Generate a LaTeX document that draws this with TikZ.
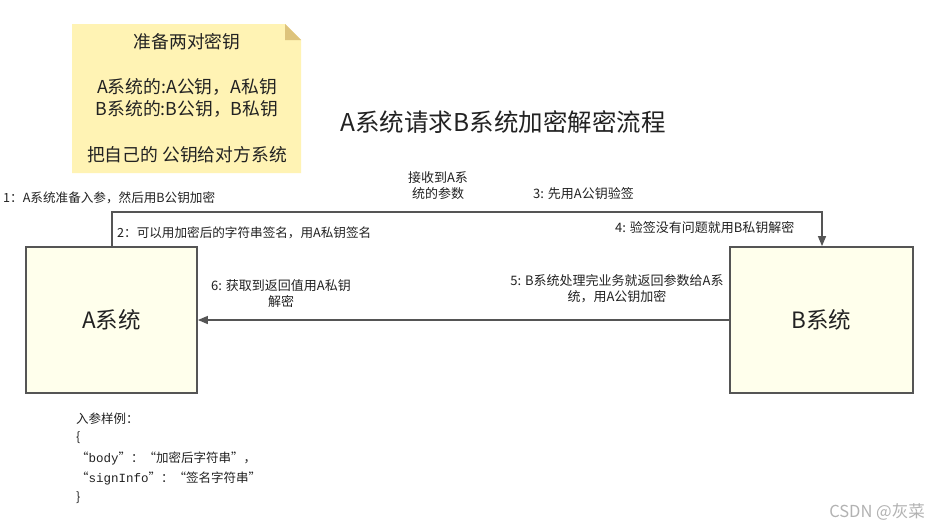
\documentclass[tikz,border=0pt]{standalone}
\usepackage{fontspec}
\setmainfont{Noto Sans CJK SC}
\newfontfamily\codemono{Liberation Mono}
\usetikzlibrary{arrows.meta}
\definecolor{notefill}{HTML}{FFF3B4}
\definecolor{notefold}{HTML}{DDC37C}
\definecolor{boxfill}{HTML}{FFFFEC}
\definecolor{linec}{HTML}{555555}
\definecolor{txt}{HTML}{222222}
\tikzset{
  sysbox/.style={draw=linec, line width=1.8pt, fill=boxfill, minimum height=146pt, inner sep=0pt, font=\fontsize{22.5}{26}\selectfont, text=txt},
  conn/.style={draw=linec, line width=1.4pt, -{Triangle[length=10pt,width=8pt]}},
  lbl/.style={font=\fontsize{13}{16}\selectfont, text=txt, inner sep=0pt, align=center},
  slbl/.style={font=\fontsize{12.6}{16}\selectfont, text=txt, inner sep=0pt, anchor=west},
  notetxt/.style={font=\fontsize{17.8}{22}\selectfont, text=txt, inner sep=0pt},
  codetxt/.style={font=\fontsize{12.5}{20}\selectfont, text=txt, inner sep=0pt, anchor=west}
}
\begin{document}
\begin{tikzpicture}[x=1pt,y=-1pt]
\useasboundingbox (0,0) rectangle (931,528);
\fill[white] (0,0) rectangle (931,528);
% note
\fill[notefill] (72,24) -- (285,24) -- (301,40) -- (301,173) -- (72,173) -- cycle;
\fill[notefold] (285,24) -- (301,40) -- (285,40) -- cycle;
\node[notetxt] (n1) at (187,42) {准备两对密钥};
\node[notetxt] (n2) at (187,87) {A系统的:A公钥，A私钥};
\node[notetxt] (n3) at (187,109) {B系统的:B公钥，B私钥};
\node[notetxt] (n4) at (187,155) {把自己的 公钥给对方系统};
% title
\node[font=\fontsize{24.5}{28}\selectfont, text=txt, inner sep=0pt] (title) at (503,122) {A系统请求B系统加密解密流程};
% boxes
\node[sysbox, minimum width=171pt] (a) at (111.5,320) {A系统};
\node[sysbox, minimum width=183pt] (b) at (821.5,320) {B系统};
% connectors
\coordinate (a1) at (112,247);
\coordinate (t2) at (822,212);
\draw[conn] (a1) |- (t2) -- (b.north -| t2);
\draw[conn] (b.west) -- (a.east);
% labels
\node[slbl] (l1) at (3,198) {1：A系统准备入参，然后用B公钥加密};
\node[slbl] (l2) at (117,233) {2：可以用加密后的字符串签名，用A私钥签名};
\node[lbl] (lr) at (438,186) {接收到A系\\统的参数};
\node[lbl, anchor=west] (l3) at (533,194) {3: 先用A公钥验签};
\node[lbl, anchor=west] (l4) at (615,228) {4: 验签没有问题就用B私钥解密};
\node[lbl] (l5) at (617,289) {5: B系统处理完业务就返回参数给A系\\统，用A公钥加密};
\node[lbl] (l6) at (281,294) {6: 获取到返回值用A私钥\\解密};
% code sample
\node[codetxt] (c1) at (76,419) {入参样例：};
\node[codetxt] (c2) at (76,438) {\{};
\node[codetxt] (c3) at (76,458) {“{\codemono body}”：“加密后字符串”，};
\node[codetxt] (c4) at (76,478) {“{\codemono signInfo}”：“签名字符串”};
\node[codetxt] (c5) at (76,498) {\}};
% watermark
\node[font=\fontsize{16.5}{18}\selectfont, text=black!30, inner sep=0pt, anchor=east] (wm) at (925,512) {CSDN @灰菜};
\end{tikzpicture}
\end{document}
